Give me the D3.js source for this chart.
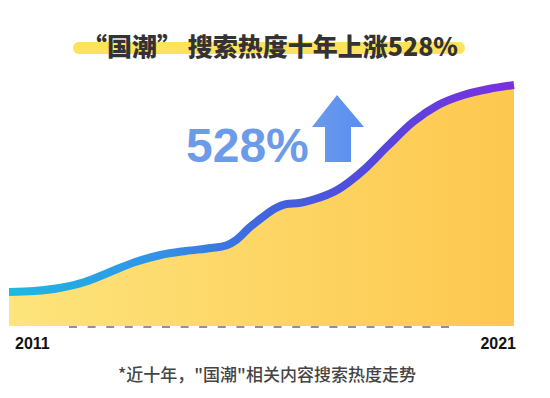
<!DOCTYPE html>
<html><head><meta charset="utf-8">
<script src="https://cdn.jsdelivr.net/npm/d3@7/dist/d3.min.js"></script>
<style>html,body{margin:0;padding:0;background:#fff;}svg{display:block;}</style>
</head><body>
<script>
const title = "“国潮” 搜索热度十年上涨528%";
const growthLabel = "528%";
const footnote = "*近十年，\"国潮\"相关内容搜索热度走势";
const tickYears = [2011, 2021];
const periods = [2011.0,2011.5,2012.0,2012.5,2013.0,2013.5,2014.0,2014.5,2015.0,2015.3,2015.5,2015.75,2016.0,2016.25,2016.5,2016.75,2017.0,2017.5,2018.0,2018.5,2019.0,2019.5,2020.0,2020.5,2021.0];
const heat    = [34,35,38,44,54,64,71,75,78,80.5,86,98,108,117,122,123,126,136,155,180,204,221,231,237,241];

const W = 550, H = 398;
const svg = d3.select("body").append("svg").attr("width", W).attr("height", H);
const defs = svg.append("defs");

const x = d3.scaleLinear().domain([2011, 2021]).range([9, 514]);
const y = d3.scaleLinear().domain([0, 250]).range([326, 76]);
const data = periods.map((p, i) => ({p, v: heat[i]}));

const ag = defs.append("linearGradient").attr("id","areaG").attr("gradientUnits","userSpaceOnUse")
  .attr("x1",9).attr("x2",514).attr("y1",0).attr("y2",0);
ag.append("stop").attr("offset","0%").attr("stop-color","#fde47c");
ag.append("stop").attr("offset","100%").attr("stop-color","#fdc84f");

const lg = defs.append("linearGradient").attr("id","lineG").attr("gradientUnits","userSpaceOnUse")
  .attr("x1",9).attr("x2",514).attr("y1",0).attr("y2",0);
[["0%","#1db9e0"],["30%","#3192e8"],["50%","#3f66de"],["72%","#5448dc"],["100%","#7c2fe0"]]
  .forEach(([o,c]) => lg.append("stop").attr("offset",o).attr("stop-color",c));

const arrG = defs.append("linearGradient").attr("id","arrG").attr("x1","0").attr("x2","1").attr("y1","0").attr("y2","0");
arrG.append("stop").attr("offset","0%").attr("stop-color","#6a9bea");
arrG.append("stop").attr("offset","100%").attr("stop-color","#5a8ef2");

svg.append("rect").attr("x",73).attr("y",42).attr("width",392).attr("height",12).attr("rx",6)
  .attr("fill","#fde25b");
svg.append("text").attr("x",270).attr("y",56).attr("text-anchor","middle")
  .attr("font-family","'Noto Sans CJK SC', sans-serif").attr("font-weight",900)
  .attr("font-size",25).attr("fill","#333").text(title);

const curve = d3.curveMonotoneX;
svg.append("path").datum(data)
  .attr("d", d3.area().x(d => x(d.p)).y0(y(0)).y1(d => y(d.v)).curve(curve))
  .attr("fill","url(#areaG)");
svg.append("path").datum(data)
  .attr("d", d3.line().x(d => x(d.p)).y(d => y(d.v)).curve(curve))
  .attr("fill","none").attr("stroke","url(#lineG)").attr("stroke-width",8).attr("stroke-linecap","butt");

svg.append("line").attr("x1",69).attr("x2",455).attr("y1",327).attr("y2",327)
  .attr("stroke","#6e6e6e").attr("stroke-width",1.6).attr("stroke-dasharray","8,10.6");

svg.selectAll("text.tick").data(tickYears).enter().append("text").attr("class","tick")
  .attr("x", d => d === 2011 ? x(d) + 6 : x(d) + 2)
  .attr("y", 349)
  .attr("text-anchor", d => d === 2011 ? "start" : "end")
  .attr("font-family","'Liberation Sans', Arial, sans-serif").attr("font-weight",700)
  .attr("font-size",16).attr("fill","#111").text(d => d);

svg.append("text").attr("x",267).attr("y",381).attr("text-anchor","middle")
  .attr("font-family","'Noto Sans CJK SC', sans-serif").attr("font-weight",500)
  .attr("font-size",17).attr("fill","#444").text(footnote);

svg.append("text").attr("x",186).attr("y",162)
  .attr("font-family","'Liberation Sans', Arial, sans-serif").attr("font-weight",700)
  .attr("font-size",48).attr("fill","#6b9be9").text(growthLabel);

svg.append("path")
  .attr("d","M337,95 L364,127 L351,127 L351,162 L325,162 L325,127 L312,127 Z")
  .attr("fill","url(#arrG)");
</script>
</body></html>
